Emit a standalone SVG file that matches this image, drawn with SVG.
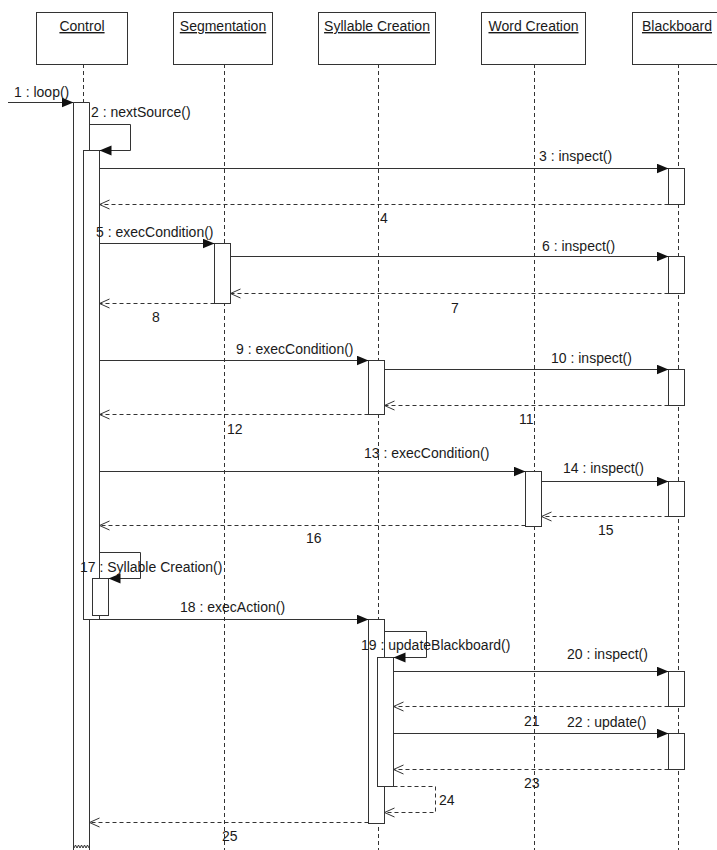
<svg xmlns="http://www.w3.org/2000/svg" width="717" height="850" viewBox="0 0 717 850">
<style>
  text { font-family: "Liberation Sans", Arial, sans-serif; font-size: 14px; fill: #1a1a1a; }
  .hdr { text-anchor: middle; text-decoration: underline; }
  .box { fill: #fff; stroke: #333; stroke-width: 1; }
  .life { stroke: #333; stroke-width: 1; stroke-dasharray: 4 3; fill: none; }
  .act { fill: #fff; stroke: #333; stroke-width: 1; }
  .msg { stroke: #333; stroke-width: 1; fill: none; marker-end: url(#filled); }
  .ret { stroke: #333; stroke-width: 1; stroke-dasharray: 4 3; fill: none; marker-end: url(#open); }
</style>
<defs>
  <marker id="filled" markerUnits="userSpaceOnUse" markerWidth="13" markerHeight="11" refX="12" refY="5" orient="auto">
    <path d="M0,0 L12,5 L0,10 z" fill="#111"/>
  </marker>
  <marker id="open" markerUnits="userSpaceOnUse" markerWidth="12" markerHeight="12" refX="10" refY="5.5" orient="auto">
    <path d="M0,1 L10,5.5 L0,10" fill="none" stroke="#333" stroke-width="1"/>
  </marker>
</defs>
<rect width="717" height="850" fill="#fff"/>

<g id="lifelines">
  <line class="life" x1="83.5" y1="64" x2="83.5" y2="102"/>
  <line class="life" x1="224.5" y1="64" x2="224.5" y2="850"/>
  <line class="life" x1="378.5" y1="64" x2="378.5" y2="850"/>
  <line class="life" x1="534.5" y1="64" x2="534.5" y2="850"/>
  <line class="life" x1="678.5" y1="64" x2="678.5" y2="850"/>
</g>

<g id="control">
  <rect class="box" x="36.5" y="12.5" width="91" height="52"/>
  <text class="hdr" x="82" y="31">Control</text>
</g>
<g id="segmentation">
  <rect class="box" x="173.5" y="12.5" width="99" height="52"/>
  <text class="hdr" x="223" y="31">Segmentation</text>
</g>
<g id="syllable-creation">
  <rect class="box" x="318.5" y="12.5" width="117" height="52"/>
  <text class="hdr" x="377" y="31">Syllable Creation</text>
</g>
<g id="word-creation">
  <rect class="box" x="481.5" y="12.5" width="104" height="52"/>
  <text class="hdr" x="533.5" y="31">Word Creation</text>
</g>
<g id="blackboard">
  <rect class="box" x="632.5" y="12.5" width="92" height="52"/>
  <text class="hdr" x="677" y="31">Blackboard</text>
</g>

<g id="activations">
  <path d="M73.5,850 L73.5,102.5 L89.5,102.5 L89.5,850" class="act"/>
  <polyline points="74,848 75.5,845 77,848 78.5,845 80,848 81.5,845 83,848 84.5,845 86,848 87.5,845 89,848" fill="none" stroke="#333" stroke-width="1"/>
  <rect class="act" x="83.5" y="150.5" width="16" height="469"/>
  <rect class="act" x="92.5" y="578.5" width="16" height="37"/>
  <rect class="act" x="214.5" y="243.5" width="16" height="60"/>
  <rect class="act" x="368.5" y="360.5" width="16" height="54"/>
  <rect class="act" x="525.5" y="471.5" width="16" height="55"/>
  <rect class="act" x="368.5" y="619.5" width="16" height="204"/>
  <rect class="act" x="377.5" y="657.5" width="16" height="129"/>
  <rect class="act" x="668.5" y="168.5" width="16" height="36"/>
  <rect class="act" x="668.5" y="256.5" width="16" height="37"/>
  <rect class="act" x="668.5" y="369.5" width="16" height="36"/>
  <rect class="act" x="668.5" y="481.5" width="16" height="35"/>
  <rect class="act" x="668.5" y="671.5" width="16" height="35"/>
  <rect class="act" x="668.5" y="733.5" width="16" height="36"/>
</g>

<g id="connectors">
  <line class="msg" x1="8" y1="102.5" x2="73.5" y2="102.5"/>
  <polyline class="msg" points="89.5,124.5 130.5,124.5 130.5,150.5 99.5,150.5"/>
  <line class="msg" x1="99.5" y1="168.5" x2="668.5" y2="168.5"/>
  <line class="ret" x1="668.5" y1="204.5" x2="99.5" y2="204.5"/>
  <line class="msg" x1="99.5" y1="243.5" x2="214.5" y2="243.5"/>
  <line class="msg" x1="230.5" y1="256.5" x2="668.5" y2="256.5"/>
  <line class="ret" x1="668.5" y1="293.5" x2="230.5" y2="293.5"/>
  <line class="ret" x1="214.5" y1="303.5" x2="99.5" y2="303.5"/>
  <line class="msg" x1="99.5" y1="360.5" x2="368.5" y2="360.5"/>
  <line class="msg" x1="384.5" y1="369.5" x2="668.5" y2="369.5"/>
  <line class="ret" x1="668.5" y1="405.5" x2="384.5" y2="405.5"/>
  <line class="ret" x1="368.5" y1="414.5" x2="99.5" y2="414.5"/>
  <line class="msg" x1="99.5" y1="471.5" x2="525.5" y2="471.5"/>
  <line class="msg" x1="541.5" y1="481.5" x2="668.5" y2="481.5"/>
  <line class="ret" x1="668.5" y1="516.5" x2="541.5" y2="516.5"/>
  <line class="ret" x1="525.5" y1="525.5" x2="99.5" y2="525.5"/>
  <polyline class="msg" points="99.5,552.5 140.5,552.5 140.5,578.5 108.5,578.5"/>
  <line class="msg" x1="99.5" y1="619.5" x2="368.5" y2="619.5"/>
  <polyline class="msg" points="384.5,631.5 426.5,631.5 426.5,657.5 393.5,657.5"/>
  <line class="msg" x1="393.5" y1="671.5" x2="668.5" y2="671.5"/>
  <line class="ret" x1="668.5" y1="706.5" x2="393.5" y2="706.5"/>
  <line class="msg" x1="393.5" y1="733.5" x2="668.5" y2="733.5"/>
  <line class="ret" x1="668.5" y1="769.5" x2="393.5" y2="769.5"/>
  <polyline class="ret" points="393.5,786.5 435.5,786.5 435.5,812.5 384.5,812.5"/>
  <line class="ret" x1="368.5" y1="822.5" x2="89.5" y2="822.5"/>
</g>

<g id="labels">
  <text x="14" y="97">1 : loop()</text>
  <text x="91" y="117">2 : nextSource()</text>
  <text x="539" y="161">3 : inspect()</text>
  <text x="380" y="223">4</text>
  <text x="96" y="237">5 : execCondition()</text>
  <text x="542" y="251">6 : inspect()</text>
  <text x="451" y="313">7</text>
  <text x="152" y="322">8</text>
  <text x="236" y="354">9 : execCondition()</text>
  <text x="551" y="363">10 : inspect()</text>
  <text x="519" y="424">11</text>
  <text x="227" y="434">12</text>
  <text x="364" y="458">13 : execCondition()</text>
  <text x="563" y="473">14 : inspect()</text>
  <text x="598" y="535">15</text>
  <text x="306" y="543">16</text>
  <text x="80" y="572">17 : Syllable Creation()</text>
  <text x="180" y="612">18 : execAction()</text>
  <text x="361" y="650">19 : updateBlackboard()</text>
  <text x="567" y="659">20 : inspect()</text>
  <text x="524" y="726">21</text>
  <text x="567" y="727">22 : update()</text>
  <text x="524" y="788">23</text>
  <text x="439" y="805">24</text>
  <text x="222" y="841">25</text>
</g>
</svg>
